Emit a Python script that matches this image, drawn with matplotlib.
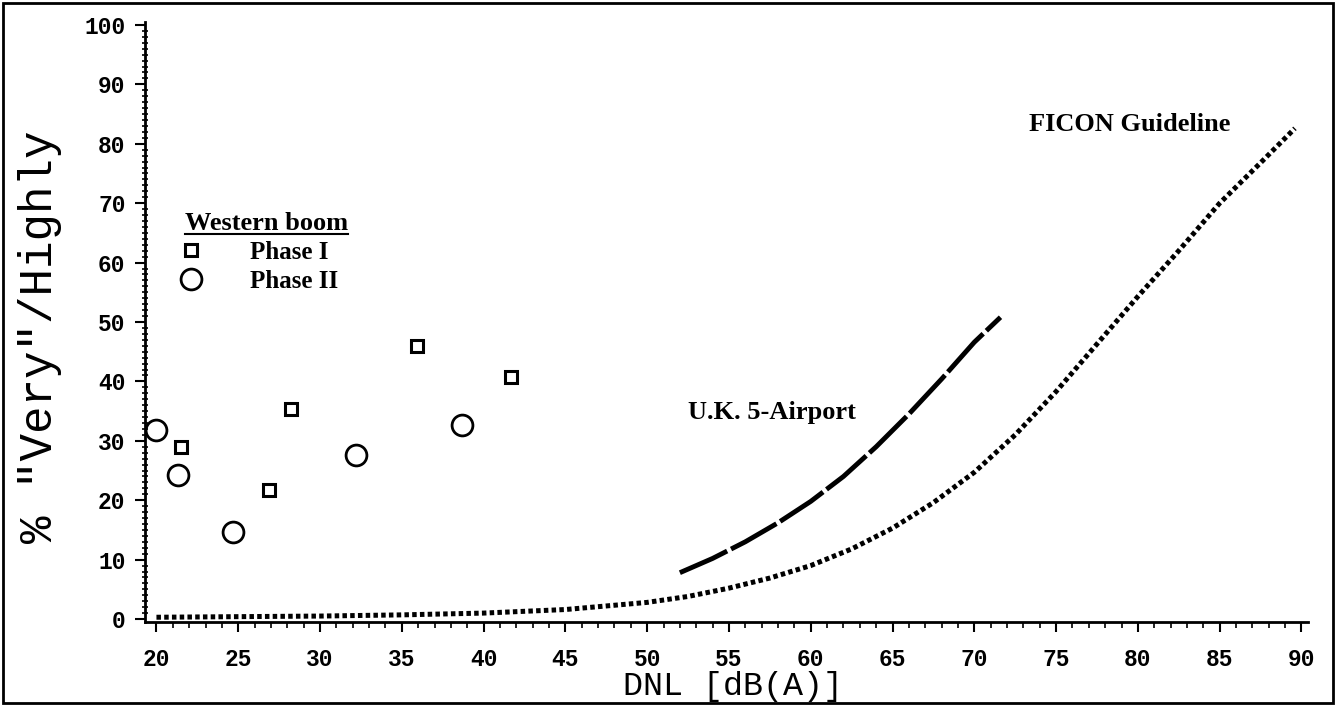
import matplotlib
matplotlib.use("Agg")
import matplotlib.pyplot as plt
from matplotlib.lines import Line2D
from matplotlib.patches import Rectangle
from matplotlib.ticker import MultipleLocator

# Western boom survey points
phase1_dnl = [21.5, 26.9, 28.2, 35.9, 41.7]
phase1_pct = [29.0, 21.7, 35.3, 46.0, 40.8]
phase2_dnl = [20.0, 21.3, 24.7, 32.2, 38.7]
phase2_pct = [31.9, 24.2, 14.6, 27.6, 32.6]

# curves
uk_dnl = [52.0, 54.0, 56.0, 58.0, 60.0, 62.0, 64.0, 66.0, 68.0, 70.0, 71.6]
uk_pct = [7.8, 10.2, 13.0, 16.2, 19.8, 24.0, 29.0, 34.5, 40.4, 46.6, 50.8]

ficon_dnl = [20, 25, 30, 35, 40, 45, 50, 52.5, 55, 57.5, 60, 62.5, 65,
             67.5, 70, 72.5, 75, 77.5, 80, 82.5, 85, 87.5, 89.6]
ficon_pct = [0.3, 0.4, 0.5, 0.7, 1.0, 1.6, 2.8, 3.8, 5.2, 6.9, 9.0, 11.8, 15.3,
             19.6, 24.7, 31.0, 38.3, 46.3, 54.3, 62.0, 70.0, 76.8, 82.6]

xticks = list(range(20, 95, 5))
yticks = list(range(0, 110, 10))

W, H = 1336, 706
fig = plt.figure(figsize=(W / 100, H / 100), dpi=100)
ax = fig.add_axes([145 / W, 84 / H, 1163 / W, 600 / H])

serif_b = {"family": "Liberation Serif", "weight": "bold", "size": 18}
serif_l = {"family": "Liberation Serif", "weight": "bold", "size": 19}

ax.plot(ficon_dnl, ficon_pct, color="black", lw=3.6, dashes=(0.9, 0.65),
        dash_capstyle="butt")
ax.plot(uk_dnl, uk_pct, color="black", lw=3.5, dashes=(10.7, 0.9),
        dash_capstyle="butt", solid_capstyle="butt")

sq, = ax.plot(phase1_dnl, phase1_pct, ls="none", marker="s", ms=9,
              mfc="none", mec="black", mew=2.2, label="Phase I")
ci, = ax.plot(phase2_dnl, phase2_pct, ls="none", marker="o", ms=15,
              mfc="none", mec="black", mew=2.0, label="Phase II")

ax.text(52.5, 34.8, "U.K. 5-Airport", ha="left", va="center", fontdict=serif_l)
ax.text(79.5, 83.2, "FICON Guideline", ha="center", va="center", fontdict=serif_l)

leg = ax.legend(handles=[sq, ci], title="Western boom", loc="upper left",
                bbox_to_anchor=(0.0237, 0.705), frameon=False, prop=serif_b,
                title_fontproperties=serif_l, alignment="left",
                handletextpad=2.1, labelspacing=0.25, borderpad=0, handlelength=0.5)

ax.set_xlim(19.3, 90.4)
ax.set_ylim(-0.5, 100.5)
ax.set_xticks(xticks)
ax.set_yticks(yticks)
ax.xaxis.set_minor_locator(MultipleLocator(1))
ax.yaxis.set_minor_locator(MultipleLocator(1))
ax.tick_params(axis="x", which="major", direction="out", length=7, width=1.5, pad=12)
ax.tick_params(axis="x", which="minor", direction="out", length=4, width=1.2)
ax.tick_params(axis="y", which="major", direction="out", length=7, width=1.5, pad=7)
ax.tick_params(axis="y", which="minor", direction="inout", length=4, width=1.2)
for lab in ax.get_xticklabels() + ax.get_yticklabels():
    lab.set_fontfamily("Liberation Mono")
    lab.set_fontweight("bold")
    lab.set_fontsize(16.5)

ax.spines["top"].set_visible(False)
ax.spines["right"].set_visible(False)
ax.spines["left"].set_linewidth(2)
ax.spines["bottom"].set_linewidth(2)

ax.set_xlabel("DNL [dB(A)]", fontfamily="Liberation Mono", fontsize=24, va="center")
ax.xaxis.set_label_coords(0.5056, -0.108)
ax.set_ylabel('% "Very"/Highly', fontfamily="Liberation Mono", fontsize=33,
              va="center", ha="center")
ax.yaxis.set_label_coords(-0.0903, 0.475)

fig.add_artist(Rectangle((3 / W, 3 / H), 1 - 6 / W, 1 - 6 / H,
                         transform=fig.transFigure, fill=False, lw=2, ec="black"))

# underline the legend title
fig.canvas.draw()
bb = leg.get_title().get_window_extent()
fig.add_artist(Line2D([bb.x0, bb.x1], [bb.y0 + 1, bb.y0 + 1], color="black", lw=1.5,
                      transform=None))

fig.savefig("out.png", dpi=100)
